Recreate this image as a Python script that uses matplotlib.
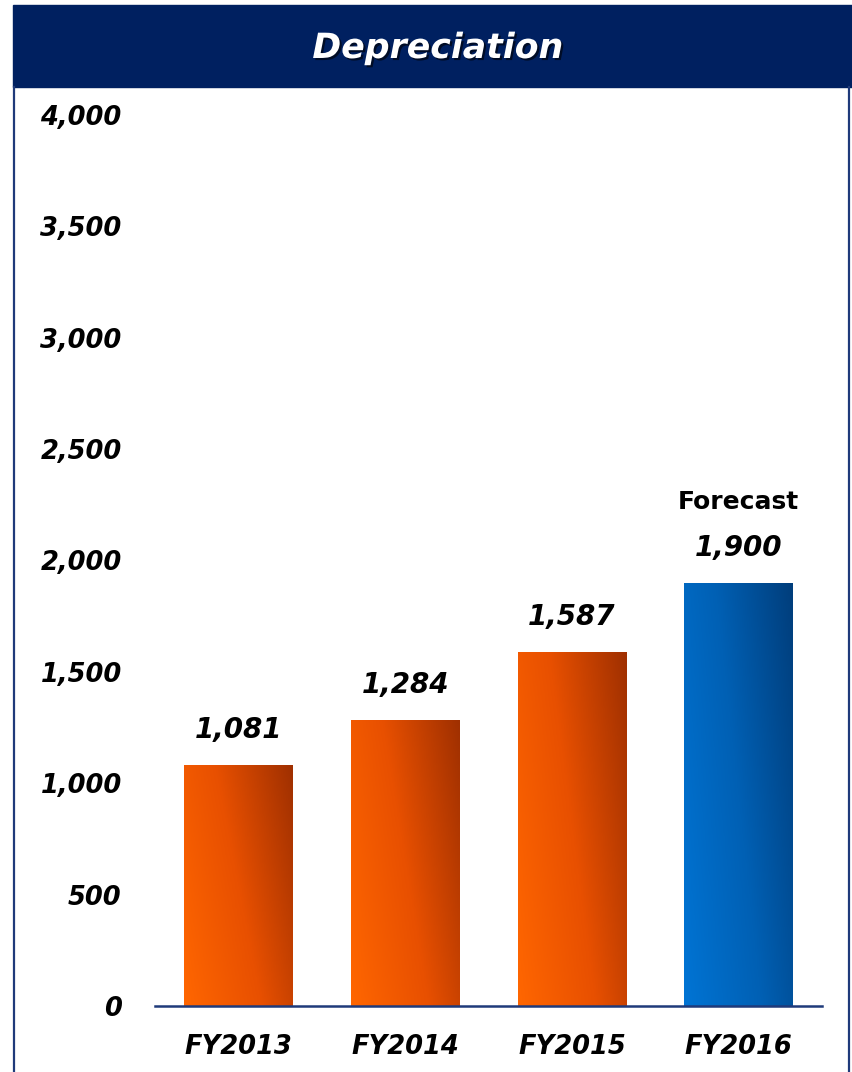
import numpy as np
import matplotlib.pyplot as plt
from matplotlib.colors import LinearSegmentedColormap
from matplotlib.patches import Rectangle
import matplotlib.patheffects as pe

# chart data
categories = ["FY2013", "FY2014", "FY2015", "FY2016"]
values = [1081, 1284, 1587, 1900]
value_labels = ["1,081", "1,284", "1,587", "1,900"]
is_forecast = [False, False, False, True]
yticks = [0, 500, 1000, 1500, 2000, 2500, 3000, 3500, 4000]
title = "Depreciation"

W, H = 853, 1072
fig = plt.figure(figsize=(W / 100, H / 100), dpi=100)
fig.patch.set_facecolor("white")

navy = "#002060"

# header band and frame
fig.patches.append(Rectangle((13 / W, 1 - 87 / H), 1 - 13 / W, 82 / H,
                             transform=fig.transFigure, color=navy, zorder=0))
fig.lines.append(plt.Line2D([14 / W, 14 / W], [0, 1 - 87 / H], transform=fig.transFigure,
                            color="#1F3A7A", lw=1.6))
fig.lines.append(plt.Line2D([849.5 / W, 849.5 / W], [0, 1 - 87 / H], transform=fig.transFigure,
                            color="#1F3A7A", lw=1.6))
fig.text(438 / W, 1 - 48 / H, title, color="white", fontsize=25, fontweight="bold",
         fontstyle="italic", ha="center", va="center",
         path_effects=[pe.withSimplePatchShadow(offset=(1.5, -1.5), shadow_rgbFace="black", alpha=0.6)])

ax = fig.add_axes([155 / W, 1 - 1006 / H, 667 / W, 891 / H])

orange = LinearSegmentedColormap.from_list("o", ["#FF6600", "#E85000", "#A03000"])
blue = LinearSegmentedColormap.from_list("b", ["#0074D4", "#0060B4", "#003E7C"])

# diagonal gradient: light bottom-left, dark top-right
gx, gy = np.meshgrid(np.linspace(0, 1, 64), np.linspace(0, 1, 64))
grad = 0.7 * gx + 0.3 * gy

bars = ax.bar(range(len(values)), values, width=0.65, color="none", edgecolor="none")
for i, b in enumerate(bars):
    x0, w, h = b.get_x(), b.get_width(), b.get_height()
    cmap = blue if is_forecast[i] else orange
    im = ax.imshow(grad, cmap=cmap, origin="lower", extent=[x0, x0 + w, 0, h],
                   aspect="auto", zorder=2)
    im.set_clip_path(b)
    ax.text(i, h + 95, value_labels[i], ha="center", va="bottom", fontsize=20,
            fontweight="bold", fontstyle="italic")
    if is_forecast[i]:
        ax.text(i, h + 310, "Forecast", ha="center", va="bottom", fontsize=18,
                fontweight="bold")

ax.set_xlim(-0.5, 3.5)
ax.set_ylim(0, 4000)

for s in ["top", "right", "left"]:
    ax.spines[s].set_visible(False)
ax.spines["bottom"].set_color("#1F3A7A")
ax.spines["bottom"].set_linewidth(1.8)
ax.spines["bottom"].set_zorder(3)

ax.set_yticks(yticks)
ax.set_yticklabels([f"{v:,}" for v in yticks], fontsize=18.5, fontweight="bold",
                   fontstyle="italic")
ax.set_xticks(range(len(categories)))
ax.set_xticklabels(categories, fontsize=18.5, fontweight="bold", fontstyle="italic")
ax.tick_params(axis="y", length=0, pad=24)
ax.tick_params(axis="x", length=0, pad=20)

fig.savefig("out.png", dpi=100)
